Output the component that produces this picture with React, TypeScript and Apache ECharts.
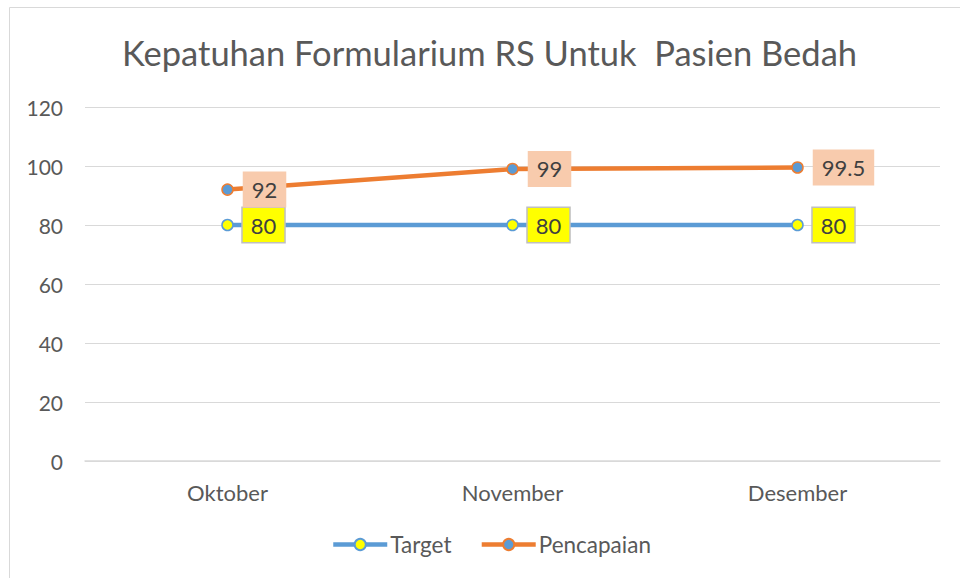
import React, { useEffect, useRef } from "react";
import * as echarts from "echarts";

const categories = ["Oktober", "November", "Desember"];
const targetValues = [80, 80, 80];
const pencapaianValues = [92, 99, 99.5];
const yTicks = { min: 0, max: 120, interval: 20 };
const titleText = "Kepatuhan Formularium RS Untuk  Pasien Bedah";

const FONT = "Lato, 'Noto Sans', sans-serif";

export default function App() {
  const ref = useRef<HTMLDivElement>(null);
  useEffect(() => {
    if (!ref.current) return;
    const chart = echarts.init(ref.current, undefined, { renderer: "svg" });
    chart.setOption({
      animation: false,
      backgroundColor: "#ffffff",
      textStyle: { fontFamily: FONT },
      title: {
        text: titleText,
        left: 117,
        top: 30,
        textStyle: { fontSize: 34.5, fontWeight: "normal", color: "#595959", fontFamily: FONT },
      },
      graphic: [
        {
          type: "rect",
          shape: { x: 9.5, y: 7.5, width: 1000, height: 1000 },
          style: { fill: "none", stroke: "#d9d9d9", lineWidth: 1 },
          silent: true,
        },
      ],
      grid: { left: 85, right: 20, top: 107, bottom: 117 },
      legend: {
        bottom: 17,
        left: 326,
        itemWidth: 54,
        itemHeight: 14,
        itemGap: 28,
        lineStyle: { width: 4.5 },
        textStyle: { fontSize: 22.5, color: "#595959", fontFamily: FONT, padding: [0, 0, 0, -2] },
        data: ["Target", "Pencapaian"],
      },
      xAxis: {
        type: "category",
        data: categories,
        boundaryGap: true,
        axisLine: { show: true, lineStyle: { color: "#d9d9d9", width: 1.5 } },
        axisTick: { show: false },
        axisLabel: { fontSize: 22, color: "#595959", margin: 20, fontFamily: FONT },
      },
      yAxis: {
        type: "value",
        min: yTicks.min,
        max: yTicks.max,
        interval: yTicks.interval,
        axisLine: { show: false },
        axisTick: { show: false },
        splitLine: { lineStyle: { color: "#d9d9d9", width: 1 } },
        axisLabel: { fontSize: 21, color: "#595959", margin: 22, fontFamily: FONT },
      },
      series: [
        {
          name: "Target",
          type: "line",
          data: targetValues,
          symbol: "circle",
          symbolSize: 11,
          lineStyle: { color: "#5B9BD5", width: 4.5 },
          itemStyle: { color: "#FFFF00", borderColor: "#5B9BD5", borderWidth: 1.5 },
          label: {
            show: true,
            position: "right",
            distance: 9,
            fontSize: 22,
            color: "#404040",
            fontFamily: FONT,
            backgroundColor: "#FFFF00",
            borderColor: "#BFBFBF",
            borderWidth: 1.5,
            padding: [6, 8, 6, 8],
          },
        },
        {
          name: "Pencapaian",
          type: "line",
          data: pencapaianValues,
          symbol: "circle",
          symbolSize: 11,
          lineStyle: { color: "#ED7D31", width: 4.5 },
          itemStyle: { color: "#5B9BD5", borderColor: "#ED7D31", borderWidth: 1.5 },
          label: {
            show: true,
            position: "right",
            distance: 9,
            fontSize: 22,
            color: "#404040",
            fontFamily: FONT,
            backgroundColor: "#F8CBAD",
            padding: [7, 9, 7, 9],
          },
        },
      ],
    });
    return () => chart.dispose();
  }, []);
  return (
    <div
      ref={ref}
      style={{ position: "absolute", left: 0, top: 0, width: 960, height: 578 }}
    />
  );
}
